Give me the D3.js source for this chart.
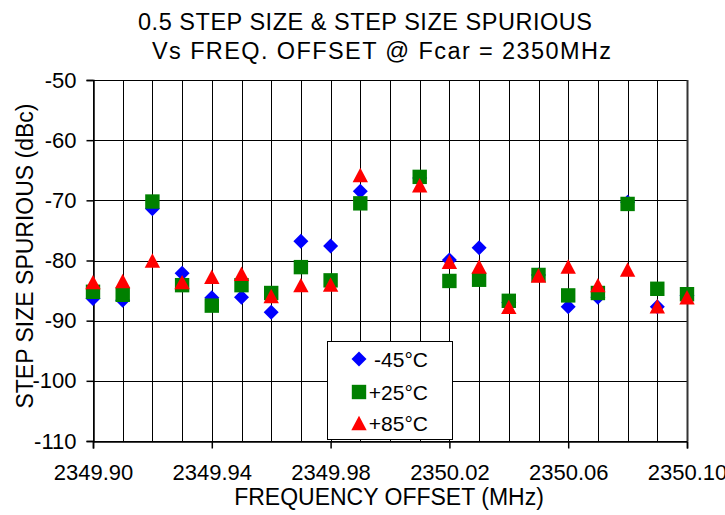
<!DOCTYPE html>
<html>
<head>
<meta charset="utf-8">
<script src="https://cdn.jsdelivr.net/npm/d3@7"></script>
<style>
  body { margin: 0; background: #fff; }
  text { font-family: "Liberation Sans", Arial, Helvetica, sans-serif; fill: #000; }
</style>
</head>
<body>
<script>
var freqs = [2349.90, 2349.91, 2349.92, 2349.93, 2349.94, 2349.95, 2349.96, 2349.97, 2349.98, 2349.99,
             2350.01, 2350.02, 2350.03, 2350.04, 2350.05, 2350.06, 2350.07, 2350.08, 2350.09, 2350.10];
var minus45 = [-86.3, -86.6, -71.4, -82.1, -86.2, -86.1, -88.6, -76.8, -77.6, -68.5,
               -66.3, -79.9, -77.9, -87.0, -82.4, -87.7, -86.1, -70.3, -87.7, -85.8];
var plus25 = [-85.2, -85.7, -70.2, -84.1, -87.5, -84.1, -85.4, -81.1, -83.3, -70.5,
              -66.1, -83.4, -83.2, -86.7, -82.4, -85.8, -85.4, -70.6, -84.7, -85.6];
var plus85 = [-83.6, -83.4, -80.0, -83.6, -82.7, -82.2, -85.9, -84.1, -84.0, -65.8,
              -67.5, -80.2, -81.0, -87.7, -82.5, -81.0, -84.1, -81.5, -87.6, -86.1];
var seriesNames = ["-45\u00B0C", "+25\u00B0C", "+85\u00B0C"];
var xTickLabels = ["2349.90", "2349.94", "2349.98", "2350.02", "2350.06", "2350.10"];
var yTicks = [-110, -100, -90, -80, -70, -60, -50];

var w = 725, h = 515;
var plotL = 93, plotR = 687, plotT = 80, plotB = 441;

var svg = d3.select("body").append("svg")
    .attr("width", w)
    .attr("height", h);

var x = d3.scaleLinear().domain([2349.90, 2350.10]).range([plotL, plotR]);
var y = d3.scaleLinear().domain([-110, -50]).range([plotB, plotT]);

// grid
var gridX = d3.range(0, 21).map(function (i) { return 2349.90 + i * 0.01; });
svg.append("g").selectAll("line")
    .data(gridX)
    .enter().append("line")
    .attr("x1", function (d) { return Math.round(x(d)) + 0.5; })
    .attr("x2", function (d) { return Math.round(x(d)) + 0.5; })
    .attr("y1", plotT)
    .attr("y2", plotB)
    .attr("stroke", "#000")
    .attr("stroke-width", 1);

svg.append("g").selectAll("line")
    .data(yTicks)
    .enter().append("line")
    .attr("x1", plotL)
    .attr("x2", plotR)
    .attr("y1", function (d) { return Math.round(y(d)) + 0.5; })
    .attr("y2", function (d) { return Math.round(y(d)) + 0.5; })
    .attr("stroke", "#000")
    .attr("stroke-width", 1);

// right border a bit heavier
svg.append("line")
    .attr("x1", Math.round(x(2350.10)) + 0.5).attr("x2", Math.round(x(2350.10)) + 0.5)
    .attr("y1", plotT).attr("y2", plotB)
    .attr("stroke", "#333").attr("stroke-width", 2);

// axes
var xAxis = d3.axisBottom(x)
    .tickValues(xTickLabels.map(Number))
    .tickFormat(function (d, i) { return xTickLabels[i]; })
    .tickSize(7)
    .tickPadding(16);
var gx = svg.append("g")
    .attr("transform", "translate(0," + (Math.round(y(-110)) + 0.5) + ")")
    .call(xAxis);
gx.select(".domain").attr("stroke", "#000").attr("stroke-width", 1.5);
gx.selectAll(".tick line").attr("stroke", "#000").attr("stroke-width", 1.5);
gx.selectAll("text").attr("font-size", "22px").attr("font-family", "Liberation Sans, Arial, sans-serif");

var yAxis = d3.axisLeft(y)
    .tickValues(yTicks)
    .tickFormat(function (d) { return String(d); })
    .tickSize(7)
    .tickPadding(10);
var gy = svg.append("g")
    .attr("transform", "translate(" + (Math.round(x(2349.90)) + 0.5) + ",0)")
    .call(yAxis);
gy.select(".domain").attr("stroke", "#000").attr("stroke-width", 1.5);
gy.selectAll(".tick line").attr("stroke", "#000").attr("stroke-width", 1.5);
gy.selectAll("text").attr("font-size", "22px").attr("font-family", "Liberation Sans, Arial, sans-serif");

// markers
function diamond(s) { return "M0," + (-s) + "L" + s + ",0L0," + s + "L" + (-s) + ",0Z"; }
function square(s) { return "M" + (-s) + "," + (-s) + "H" + s + "V" + s + "H" + (-s) + "Z"; }
function triangle(s) { return "M0," + (-s) + "L" + (s + 0.5) + "," + s + "L" + (-s - 0.5) + "," + s + "Z"; }

var series = [
    { name: seriesNames[0], values: minus45, color: "#0000ff", shape: diamond(7.5) },
    { name: seriesNames[1], values: plus25, color: "#008000", shape: square(7.2) },
    { name: seriesNames[2], values: plus85, color: "#ff0000", shape: triangle(7.2) }
];

series.forEach(function (s) {
    svg.append("g").selectAll("path")
        .data(s.values)
        .enter().append("path")
        .attr("d", s.shape)
        .attr("fill", s.color)
        .attr("transform", function (d, i) {
            return "translate(" + x(freqs[i]) + "," + y(d) + ")";
        });
});

// legend
var lg = svg.append("g");
lg.append("rect")
    .attr("x", 327.5).attr("y", 341.5)
    .attr("width", 125).attr("height", 98)
    .attr("fill", "#fff").attr("stroke", "#000").attr("stroke-width", 1);
var rowY = [359, 392, 423];
series.forEach(function (s, i) {
    lg.append("path")
        .attr("d", s.shape)
        .attr("fill", s.color)
        .attr("transform", "translate(359," + rowY[i] + ")");
    lg.append("text")
        .attr("x", 428).attr("y", rowY[i] + 7.5)
        .attr("text-anchor", "end")
        .attr("font-size", "21px")
        .text(s.name);
});

// titles
svg.append("text")
    .attr("x", 138).attr("y", 30)
    .attr("font-size", "23.5px")
    .attr("textLength", 454)
    .attr("lengthAdjust", "spacing")
    .text("0.5 STEP SIZE & STEP SIZE SPURIOUS");
svg.append("text")
    .attr("x", 152).attr("y", 59)
    .attr("font-size", "23.5px")
    .attr("textLength", 459)
    .attr("lengthAdjust", "spacing")
    .text("Vs FREQ. OFFSET @ Fcar = 2350MHz");

svg.append("text")
    .attr("x", 389).attr("y", 505)
    .attr("text-anchor", "middle")
    .attr("font-size", "23px")
    .text("FREQUENCY OFFSET (MHz)");

svg.append("text")
    .attr("transform", "translate(33,256) rotate(-90)")
    .attr("text-anchor", "middle")
    .attr("font-size", "23px")
    .text("STEP SIZE SPURIOUS (dBc)");
</script>
</body>
</html>
